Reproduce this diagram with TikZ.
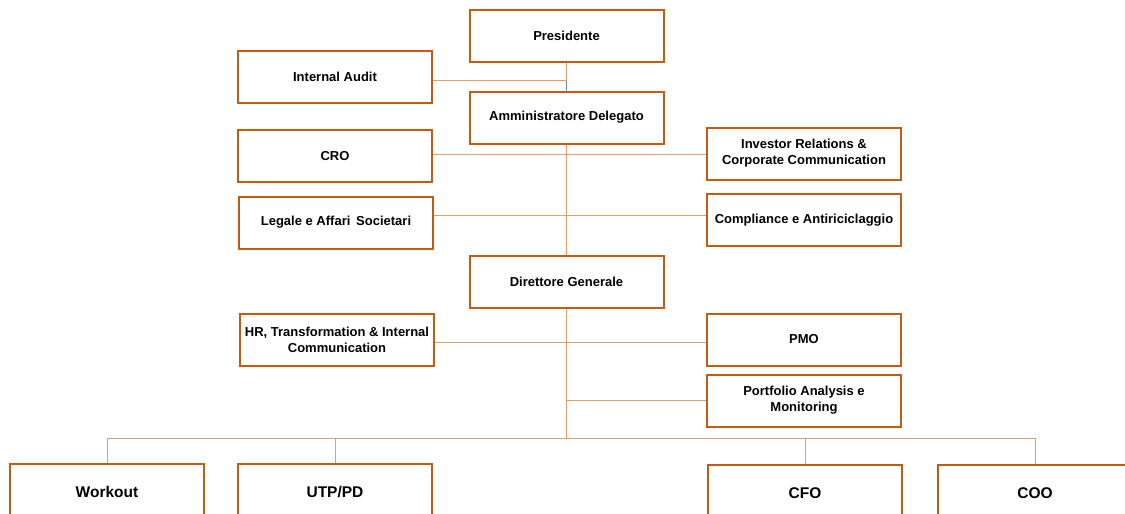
\documentclass[tikz,border=0pt]{standalone}
\usepackage{fontspec}
\setmainfont{Liberation Sans}
\usetikzlibrary{positioning,calc}
\definecolor{frame}{HTML}{C55A11}
\definecolor{wire}{HTML}{E59A68}
\definecolor{joint}{HTML}{5B8DC0}

\tikzset{
  unit/.style={draw=frame,fill=white,line width=2pt,minimum width=194pt,minimum height=52pt,
    align=center,font=\fontsize{13}{16}\selectfont\bfseries,inner sep=2pt},
  bigunit/.style={unit,minimum height=56pt,font=\fontsize{15.5}{18}\selectfont\bfseries},
  link/.style={draw=wire,line width=1pt}
}

\begin{document}
\begin{tikzpicture}[x=1pt,y=-1pt]
\useasboundingbox (0,0) rectangle (1125,514);
\clip (0,0) rectangle (1125,514);
\node[unit] (pres) at (566.5,36){Presidente};
\node[unit] (ia) at (335,77){Internal Audit};
\node[unit] (ad) at (566.5,117.5){Amministratore Delegato};
\node[unit] (cro) at (335,156){CRO};
\node[unit] (ir) at (804,153.5){Investor Relations \&\\Corporate Communication};
\node[unit] (leg) at (336,222.5){Legale e Affari\, Societari};
\node[unit] (comp) at (804,220){Compliance e Antiriciclaggio};
\node[unit] (dg) at (566.5,282){Direttore Generale};
\node[unit] (hr) at (337,340){HR, Transformation \& Internal\\Communication};
\node[unit] (pmo) at (804,339.5){PMO};
\node[unit] (pam) at (804,400.5){Portfolio Analysis e\\Monitoring};
\node[bigunit] (wo) at (107,492){Workout};
\node[bigunit] (utp) at (335,492){UTP/PD};
\node[bigunit] (cfo) at (805,493){CFO};
\node[bigunit] (coo) at (1035,493){COO};
\coordinate (bus) at (566.5,438);
\coordinate (iaj) at (566.5,80);
% upper spine
\draw[link] (pres.south)--(iaj);\draw[draw=joint,line width=1pt] (iaj)--(ad.north);
\draw[link] (ia.east|-iaj)--(iaj);
\draw[link] (ad.south)--(dg.north);
\draw[link] (cro.east|-0,154)--(ir.west|-0,154);
\draw[link] (leg.east|-0,215)--(comp.west|-0,215);
% lower spine
\draw[link] (dg.south)--(bus);
\draw[link] (hr.east|-0,342)--(pmo.west|-0,342);
\draw[link] (pam.west-|bus)--(pam.west);
\draw[link] (wo.north|-bus)--(coo.north|-bus);
\foreach \u in {wo,utp,cfo,coo}{\draw[link] (\u.north|-bus)--(\u.north);}
\end{tikzpicture}
\end{document}
